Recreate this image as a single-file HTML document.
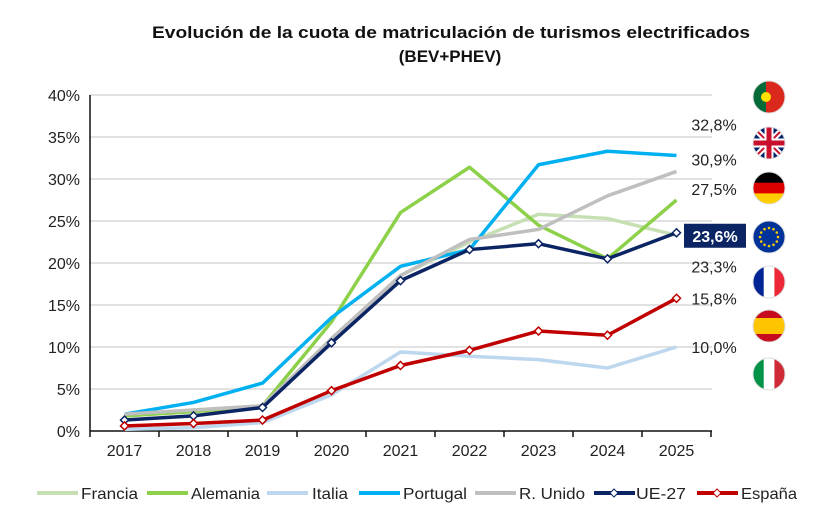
<!DOCTYPE html>
<html><head><meta charset="utf-8"><style>
body{margin:0;background:#fff;width:837px;height:522px;overflow:hidden;font-family:"Liberation Sans",sans-serif}
svg{display:block}
</style></head><body>
<svg width="837" height="522" id="c">
<text x="152" y="38" textLength="598" lengthAdjust="spacingAndGlyphs" font-size="17" font-weight="bold" fill="#111">Evolución de la cuota de matriculación de turismos electrificados</text>
<text x="450" y="62" text-anchor="middle" font-size="17" font-weight="bold" fill="#111">(BEV+PHEV)</text>
<g id="grid"></g><g id="series"></g><g id="labels"></g><g id="flags"></g><g id="legend"></g>
</svg>
<script>
const years=["2017","2018","2019","2020","2021","2022","2023","2024","2025"];
const yTicks=[0,5,10,15,20,25,30,35,40];
const francia=[1.8,2.5,3,11,18.5,22.5,25.8,25.3,23.3];
const alemania=[1.8,2.3,3,13,26,31.4,24.5,20.5,27.5];
const italia=[0.2,0.4,1,4.3,9.4,8.9,8.5,7.5,10];
const portugal=[2,3.4,5.7,13.5,19.6,21.6,31.7,33.3,32.8];
const runido=[2,2.5,3,11,18.5,22.8,24,28,30.9];
const ue27=[1.3,1.8,2.8,10.5,17.9,21.6,22.3,20.5,23.6];
const espana=[0.6,0.9,1.3,4.8,7.8,9.6,11.9,11.4,15.8];
const endLabels=["32,8%","30,9%","27,5%","23,6%","23,3%","15,8%","10,0%"];
const NS="http://www.w3.org/2000/svg";
const x0=90,bw=69,y0=431,py=8.4;
const X=i=>x0+bw*(i+0.5), Y=v=>y0-v*py;
function el(t,a,p){const e=document.createElementNS(NS,t);for(const k in a)e.setAttribute(k,a[k]);document.getElementById(p).appendChild(e);return e;}
yTicks.forEach(t=>{
 if(t>0){const g=el('line',{x1:x0,x2:712,y1:Y(t),y2:Y(t),stroke:'#d9d9d9','stroke-width':1.5},'grid');
 
 }
 const tx=el('text',{x:80,y:Y(t)+6,'text-anchor':'end','font-size':16,fill:'#222'},'grid');tx.textContent=t+'%';
 
 
});
el('line',{x1:x0,x2:x0,y1:Y(40),y2:y0,stroke:'#111','stroke-width':1.5},'grid');
el('line',{x1:x0,x2:712,y1:y0,y2:y0,stroke:'#111','stroke-width':1.5},'grid');
for(let i=0;i<=years.length;i++)el('line',{x1:x0+bw*i,x2:x0+bw*i,y1:y0,y2:y0+6,stroke:'#111','stroke-width':1.5},'grid');
years.forEach((y,i)=>{const t=el('text',{x:X(i),y:456,'text-anchor':'middle','font-size':16,fill:'#222'},'grid');t.textContent=y;
 
 });
const S=[["Francia",francia,"#c6e0b4",false],["Alemania",alemania,"#8dd04a",false],["Italia",italia,"#bdd7ee",false],["Portugal",portugal,"#00b0f0",false],["R. Unido",runido,"#bfbfbf",false],["UE-27",ue27,"#0b2463",true],["España",espana,"#c00000",true]];
S.forEach(([n,d,c,m])=>{
 const p=el('polyline',{points:d.map((v,i)=>X(i)+','+Y(v)).join(' '),fill:'none',stroke:c,'stroke-width':3.5,'stroke-linejoin':'round'},'series');
 
 
 if(m)d.forEach((v,i)=>{const q=el('path',{d:`M${X(i)},${Y(v)-4}l4,4l-4,4l-4,-4z`,fill:'#fff',stroke:c,'stroke-width':1.5},'series');
  
  });
});
const lval=[portugal[8],runido[8],alemania[8],ue27[8],francia[8],espana[8],italia[8]];
const loff=[-25,-6,-5,9,37,6,6];
endLabels.forEach((l,i)=>{const yy=Y(lval[i])+loff[i];
 if(i==3){const r=el('rect',{x:684,y:yy-18,width:62,height:24,fill:'#0b2463'},'labels');}
 const t=el('text',{x:i==3?715:714,y:yy,'text-anchor':'middle','font-size':16,fill:i==3?'#fff':'#222','font-weight':i==3?'bold':'normal'},'labels');t.textContent=l;
 
 });
const flags=[[97,["#046a38","#da291c"],"v"],[143,null,"uk"],[188,["#000","#dd0000","#ffce00"],"h"],[237,null,"eu"],[282,["#002395","#fff","#ed2939"],"v3"],[326,["#c60b1e","#ffc400","#c60b1e"],"es"],[374,["#009246","#fff","#ce2b37"],"v3"]];
const fn=["portugal","uk","germany","eu","france","spain","italy"];
flags.forEach(([cy,cols,t],i)=>{
 const g=el('g',{},'flags');
 const id='cp'+i;const cp=document.createElementNS(NS,'clipPath');cp.setAttribute('id',id);const cc=document.createElementNS(NS,'circle');cc.setAttribute('cx',769);cc.setAttribute('cy',cy);cc.setAttribute('r',16);cp.appendChild(cc);g.appendChild(cp);
 const gg=document.createElementNS(NS,'g');gg.setAttribute('clip-path','url(#'+id+')');g.appendChild(gg);
 const R=(x,y,w,h,f)=>{const r=document.createElementNS(NS,'rect');r.setAttribute('x',x);r.setAttribute('y',y);r.setAttribute('width',w);r.setAttribute('height',h);r.setAttribute('fill',f);gg.appendChild(r);};
 if(t=="v"){R(753,cy-16,13,32,cols[0]);R(766,cy-16,20,32,cols[1]);const c=document.createElementNS(NS,'circle');c.setAttribute('cx',766);c.setAttribute('cy',cy);c.setAttribute('r',5);c.setAttribute('fill','#ffe000');gg.appendChild(c);}
 else if(t=="v3"){cols.forEach((c,k)=>R(753+k*10.7,cy-16,11,32,c));}
 else if(t=="h"){cols.forEach((c,k)=>R(753,cy-16+k*10.7,32,11,c));}
 else if(t=="es"){R(753,cy-16,32,8,cols[0]);R(753,cy-8,32,16,cols[1]);R(753,cy+8,32,8,cols[2]);}
 else if(t=="eu"){R(753,cy-16,32,32,"#003399");for(let k=0;k<12;k++){const a=k*Math.PI/6;const c=document.createElementNS(NS,'circle');c.setAttribute('cx',769+9*Math.cos(a));c.setAttribute('cy',cy+9*Math.sin(a));c.setAttribute('r',1.3);c.setAttribute('fill','#ffcc00');gg.appendChild(c);}}
 else{R(753,cy-16,32,32,"#012169");const L=(x1,y1,x2,y2,w,c)=>{const l=document.createElementNS(NS,'line');l.setAttribute('x1',x1);l.setAttribute('y1',y1);l.setAttribute('x2',x2);l.setAttribute('y2',y2);l.setAttribute('stroke',c);l.setAttribute('stroke-width',w);gg.appendChild(l);};
  L(753,cy-16,785,cy+16,6,'#fff');L(785,cy-16,753,cy+16,6,'#fff');L(753,cy-16,785,cy+16,2,'#c8102e');L(785,cy-16,753,cy+16,2,'#c8102e');L(769,cy-16,769,cy+16,9,'#fff');L(753,cy,785,cy,9,'#fff');L(769,cy-16,769,cy+16,5,'#c8102e');L(753,cy,785,cy,5,'#c8102e');}
 el('circle',{cx:769,cy:cy,r:16,fill:'none',stroke:'#ddd','stroke-width':1},'flags');
});
const legX=[[37,81,57],[147,191,69],[267,312,36],[359,403,64],[475,519,66],[594,636,50],[697,741,56]];
S.forEach(([n,d,c,m],k)=>{
 const [lx,tx,tw]=legX[k];
 const g=el('g',{},'legend');
 const l=document.createElementNS(NS,'line');l.setAttribute('x1',lx);l.setAttribute('x2',lx+41);l.setAttribute('y1',493);l.setAttribute('y2',493);l.setAttribute('stroke',c);l.setAttribute('stroke-width',4);g.appendChild(l);
 if(m){const q=document.createElementNS(NS,'path');q.setAttribute('d',`M${lx+20},489l4,4l-4,4l-4,-4z`);q.setAttribute('fill','#fff');q.setAttribute('stroke',c);g.appendChild(q);}
 const t=document.createElementNS(NS,'text');t.setAttribute('x',tx);t.setAttribute('y',499);t.setAttribute('font-size',16);t.setAttribute('fill','#222');t.setAttribute('textLength',tw);t.setAttribute('lengthAdjust','spacingAndGlyphs');t.textContent=n;g.appendChild(t);
});
</script>
</body></html>
